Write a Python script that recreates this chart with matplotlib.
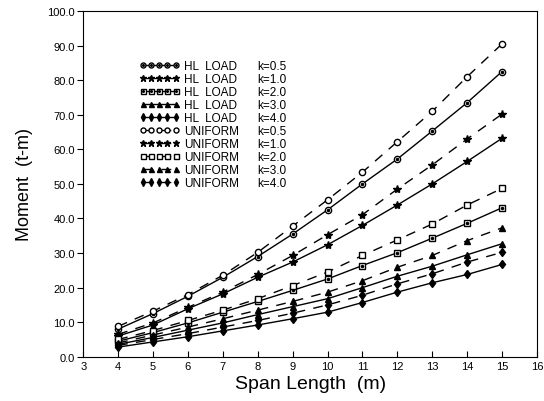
import numpy as np
import matplotlib.pyplot as plt
from matplotlib.legend_handler import HandlerTuple

plt.rcParams['font.family'] = ['Liberation Sans', 'DejaVu Sans']

span = [4, 5, 6, 7, 8, 9, 10, 11, 12, 13, 14, 15]
k_labels = ['k=0.5', 'k=1.0', 'k=2.0', 'k=3.0', 'k=4.0']

# HL LOAD (solid lines)
hl_k05 = [8.0, 12.5, 17.5, 23.0, 29.0, 35.5, 42.5, 50.0, 57.2, 65.3, 73.5, 82.5]
hl_k10 = [6.0, 9.2, 13.9, 18.2, 23.0, 27.4, 32.4, 38.0, 43.9, 50.0, 56.5, 63.2]
hl_k20 = [4.5, 7.0, 9.8, 12.9, 16.0, 19.2, 22.5, 26.4, 30.1, 34.3, 38.6, 43.1]
hl_k30 = [3.6, 5.6, 7.7, 9.8, 12.2, 14.5, 16.8, 20.0, 23.3, 26.2, 29.5, 32.7]
hl_k40 = [2.8, 4.3, 5.8, 7.5, 9.2, 11.0, 12.9, 15.7, 18.7, 21.4, 23.8, 26.7]

# UNIFORM (dashed lines)
uni_k05 = [8.8, 13.2, 18.0, 23.6, 30.2, 37.8, 45.4, 53.4, 62.2, 71.0, 81.0, 90.5]
uni_k10 = [6.5, 9.8, 14.3, 18.7, 23.8, 29.3, 35.3, 41.1, 48.5, 55.5, 63.0, 70.2]
uni_k20 = [5.0, 7.6, 10.5, 13.5, 16.8, 20.6, 24.5, 29.3, 33.8, 38.4, 43.9, 48.7]
uni_k30 = [4.0, 6.3, 8.6, 11.0, 13.5, 16.0, 18.7, 22.0, 25.9, 29.3, 33.6, 37.3]
uni_k40 = [3.3, 5.0, 6.7, 8.6, 10.5, 12.6, 15.0, 17.8, 21.1, 24.0, 27.4, 30.2]

hl = [hl_k05, hl_k10, hl_k20, hl_k30, hl_k40]
uni = [uni_k05, uni_k10, uni_k20, uni_k30, uni_k40]

# marker, face colour, dot in centre
hl_mk = [('o', 'white', True), ('*', 'black', False), ('s', 'white', True),
         ('^', 'black', False), ('d', 'black', False)]
uni_mk = [('o', 'white', False), ('*', 'black', False), ('s', 'white', False),
          ('^', 'black', False), ('d', 'black', False)]

fig = plt.figure(figsize=(5.44, 4.02), dpi=100)
ax = fig.add_axes([0.153, 0.11, 0.834, 0.86])

handles = []
names = []


def draw(y, mk, ls, name):
    m, fc, dot = mk
    ms = 6 if m == '*' else 4.5
    ln, = ax.plot(span, y, color='black', lw=1.0, ls=ls, marker=m, ms=ms,
                  mfc=fc, mec='black', mew=1.0)
    if ls == '--':
        ln.set_dashes((7, 6))
    h = ln
    if dot:
        d, = ax.plot(span, y, ls='none', marker='.', ms=3, color='black')
        h = (ln, d)
    handles.append(h)
    names.append(name)


for y, mk in zip(hl, hl_mk):
    draw(y, mk, '-', 'HL  LOAD')
for y, mk in zip(uni, uni_mk):
    draw(y, mk, '--', 'UNIFORM')

ax.set_xlim(3, 16)
ax.set_ylim(0, 100)
ax.set_xticks(np.arange(3, 17, 1))
ax.set_yticks(np.arange(0, 101, 10))
ax.set_yticklabels(['%.1f' % v for v in np.arange(0, 101, 10)])
ax.tick_params(axis='x', direction='in', labelsize=8, length=4, pad=3)
ax.tick_params(axis='y', direction='out', labelsize=8, length=4, pad=2)
ax.set_xlabel('Span Length  (m)', fontsize=14, labelpad=3)
ax.set_ylabel('Moment  (t-m)', fontsize=13, labelpad=10)

leg1 = ax.legend(handles, names, loc='upper left', bbox_to_anchor=(0.11, 0.875),
                 frameon=False, fontsize=8.5, labelspacing=0.08, numpoints=5,
                 markerscale=0.8, handlelength=3.4, handletextpad=0.4,
                 borderpad=0, handler_map={tuple: HandlerTuple(ndivide=1)})
ax.add_artist(leg1)
blank = [plt.Line2D([], [], ls='none') for _ in range(10)]
ax.legend(blank, k_labels * 2, loc='upper left', bbox_to_anchor=(0.37, 0.875),
          frameon=False, fontsize=8.5, labelspacing=0.08, handlelength=0,
          handletextpad=0, borderpad=0)

fig.savefig('out.png', dpi=100)
